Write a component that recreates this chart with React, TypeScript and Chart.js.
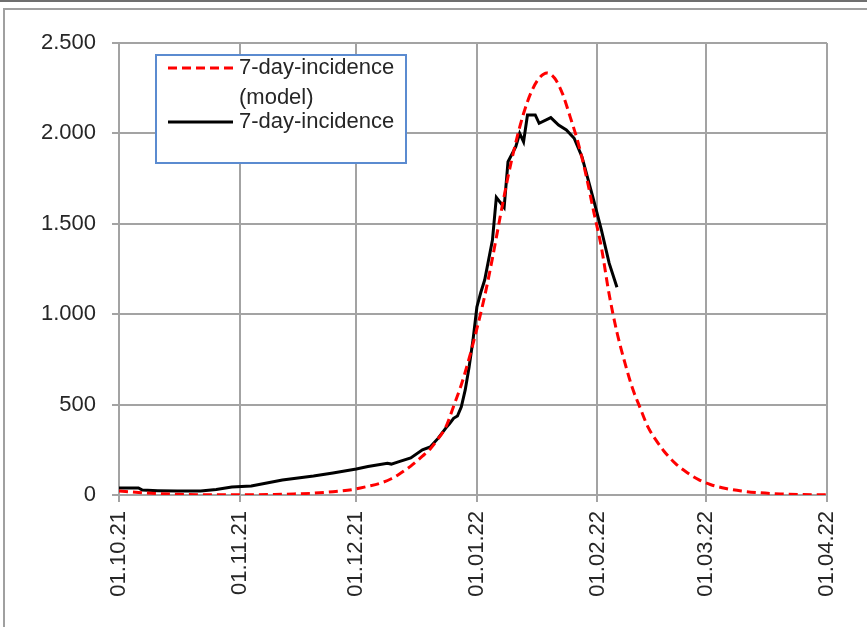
import React, { useEffect, useRef } from "react";
import { Chart, registerables } from "chart.js";

Chart.register(...registerables);

// Day index: 0 = 01.10.21
const xTickDays = [0, 31, 61, 92, 123, 151, 182];
const xTickLabels = ["01.10.21", "01.11.21", "01.12.21", "01.01.22", "01.02.22", "01.03.22", "01.04.22"];
const yTickValues = [0, 500, 1000, 1500, 2000, 2500];
const yTickLabels = ["0", "500", "1.000", "1.500", "2.000", "2.500"];

const modelDays = [0, 5, 10, 15, 20, 30, 40, 45, 50, 55, 60, 64, 67, 70, 72, 75, 78, 80, 82, 84, 86, 88, 90, 92, 94, 96, 98, 100, 102, 104, 106, 108, 110, 112, 114, 116, 118, 120, 122, 124, 126, 128, 130, 132, 134, 136, 138, 140, 143, 146, 149, 152, 156, 160, 165, 170, 175, 182];
const modelValues = [22, 14, 8, 4, 2, 1, 3, 6, 10, 18, 30, 48, 64, 90, 115, 160, 215, 255, 310, 375, 490, 610, 755, 920, 1100, 1310, 1540, 1760, 1950, 2110, 2230, 2305, 2334, 2305, 2220, 2090, 1950, 1775, 1570, 1370, 1110, 900, 735, 590, 480, 375, 305, 245, 175, 125, 85, 58, 36, 22, 12, 6, 3, 1];

const actualDays = [0, 5, 6, 10, 15, 21, 25, 29, 34, 38, 42, 46, 50, 55, 61, 64, 69, 70, 72, 75, 78, 80, 82, 84, 85, 86, 87, 88, 89, 90, 91, 92, 93, 94, 96, 97, 99, 100, 102, 103, 104, 105, 107, 108, 111, 113, 115, 117, 119, 122, 124, 126, 128];
const actualValues = [39, 39, 27, 24, 22, 22, 30, 44, 50, 66, 83, 94, 105, 122, 144, 158, 176, 171, 185, 205, 250, 266, 313, 370, 395, 424, 437, 488, 581, 708, 857, 1040, 1120, 1189, 1410, 1646, 1590, 1843, 1926, 2000, 1954, 2102, 2102, 2056, 2087, 2046, 2019, 1973, 1871, 1632, 1466, 1282, 1149];

const modelLabelLines = ["7-day-incidence", "(model)"];
const actualLabelLines = ["7-day-incidence"];

const FONT = "'Liberation Sans', Arial, sans-serif";
const GRID = "#a3a3a3";

const legendPlugin = {
  id: "boxLegend",
  afterDatasetsDraw(chart: any) {
    const { ctx, chartArea } = chart;
    const bx = chartArea.left + 37;
    const by = chartArea.top + 12;
    const bw = 250;
    const bh = 108;
    ctx.save();
    ctx.fillStyle = "#ffffff";
    ctx.fillRect(bx, by, bw, bh);
    ctx.strokeStyle = "#5b8bd0";
    ctx.lineWidth = 2;
    ctx.strokeRect(bx, by, bw, bh);
    ctx.font = `22px ${FONT}`;
    ctx.textBaseline = "middle";
    ctx.textAlign = "left";
    ctx.fillStyle = "#262626";
    const rows = [
      { ds: chart.data.datasets[0], lines: modelLabelLines, y: by + 13 },
      { ds: chart.data.datasets[1], lines: actualLabelLines, y: by + 67 },
    ];
    rows.forEach((r) => {
      ctx.beginPath();
      ctx.strokeStyle = r.ds.borderColor;
      ctx.lineWidth = r.ds.borderWidth;
      ctx.setLineDash(r.ds.borderDash || []);
      ctx.moveTo(bx + 12, r.y);
      ctx.lineTo(bx + 77, r.y);
      ctx.stroke();
      ctx.setLineDash([]);
      r.lines.forEach((t: string, i: number) => {
        ctx.fillText(t, bx + 83, r.y + i * 30);
      });
    });
    ctx.restore();
  },
};

export default function App() {
  const ref = useRef<HTMLCanvasElement | null>(null);
  useEffect(() => {
    if (!ref.current) return;
    const chart = new Chart(ref.current, {
      type: "line",
      data: {
        datasets: [
          {
            label: modelLabelLines.join(" "),
            data: modelDays.map((d, i) => ({ x: d, y: modelValues[i] })),
            borderColor: "#ff0000",
            borderWidth: 3,
            borderDash: [9, 5],
            pointRadius: 0,
            fill: false,
            tension: 0.4,
            cubicInterpolationMode: "monotone",
          },
          {
            label: actualLabelLines.join(" "),
            data: actualDays.map((d, i) => ({ x: d, y: actualValues[i] })),
            borderColor: "#000000",
            borderWidth: 3,
            pointRadius: 0,
            fill: false,
            tension: 0,
          },
        ],
      },
      options: {
        animation: false,
        responsive: false,
        devicePixelRatio: 1,
        layout: { padding: { left: 0, right: 40, top: 43, bottom: 0 } },
        plugins: { legend: { display: false }, tooltip: { enabled: false } },
        scales: {
          x: {
            type: "linear",
            min: 0,
            max: 182,
            afterBuildTicks: (s: any) => {
              s.ticks = xTickDays.map((v) => ({ value: v }));
            },
            afterFit: (s: any) => {
              s.height = 132;
            },
            ticks: {
              autoSkip: false,
              minRotation: 90,
              maxRotation: 90,
              padding: 9,
              color: "#262626",
              font: { size: 22, family: FONT },
              callback: (v: any) => {
                const i = xTickDays.indexOf(Number(v));
                return i >= 0 ? xTickLabels[i] : "";
              },
            },
            grid: { color: GRID, lineWidth: 2, tickLength: 7, drawTicks: true },
            border: { display: true, color: GRID, width: 2 },
          },
          y: {
            type: "linear",
            min: 0,
            max: 2500,
            afterBuildTicks: (s: any) => {
              s.ticks = yTickValues.map((v) => ({ value: v }));
            },
            afterFit: (s: any) => {
              s.width = 119;
            },
            ticks: {
              padding: 16,
              color: "#262626",
              font: { size: 22, family: FONT },
              callback: (v: any) => {
                const i = yTickValues.indexOf(Number(v));
                return i >= 0 ? yTickLabels[i] : "";
              },
            },
            grid: { color: GRID, lineWidth: 2, tickLength: 7, drawTicks: true },
            border: { display: true, color: GRID, width: 2 },
          },
        },
      },
      plugins: [legendPlugin],
    } as any);
    return () => chart.destroy();
  }, []);

  return (
    <div style={{ position: "fixed", left: 0, top: 0, width: 867, height: 627, background: "#fff", overflow: "hidden" }}>
      <div style={{ position: "absolute", left: 0, top: 0, width: 867, height: 2, background: "#6f6f6f" }} />
      <div
        style={{
          position: "absolute",
          left: 3,
          top: 8,
          width: 900,
          height: 700,
          borderLeft: "2px solid #a0a0a0",
          borderTop: "2px solid #a0a0a0",
        }}
      />
      <canvas ref={ref} width={867} height={627} style={{ position: "absolute", left: 0, top: 0, width: 867, height: 627 }} />
    </div>
  );
}
